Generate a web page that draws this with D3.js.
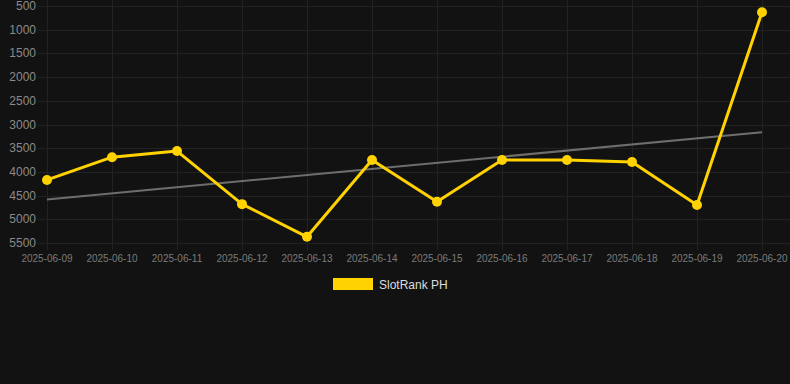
<!DOCTYPE html>
<html>
<head>
    <script src="https://d3js.org/d3.v7.min.js"></script>
    <style>
        body { margin: 0; background: #121212; }
        svg { display: block; background: #121212; font-family: Arial, "Liberation Sans", sans-serif; }
        .grid line { stroke: #222; stroke-width: 1px; }
        .ylab { fill: #8a8a8a; font-size: 12px; text-anchor: end; }
        .xlab { fill: #7a7a7a; font-size: 10px; text-anchor: middle; }
        .trend { fill: none; stroke: #6e6e6e; stroke-width: 2px; }
        .series { fill: none; stroke: #ffd200; stroke-width: 3px; stroke-linejoin: round; }
        .dot { fill: #ffd200; }
        .legend text { fill: #dddddd; font-size: 12px; }
    </style>
</head>
<body>
<svg width="790" height="384"></svg>
<script>
    var dates = ["2025-06-09", "2025-06-10", "2025-06-11", "2025-06-12", "2025-06-13", "2025-06-14",
                 "2025-06-15", "2025-06-16", "2025-06-17", "2025-06-18", "2025-06-19", "2025-06-20"];
    var ranks = [4170, 3690, 3560, 4680, 5370, 3750, 4630, 3750, 3750, 3790, 4700, 630];
    var yTicks = [500, 1000, 1500, 2000, 2500, 3000, 3500, 4000, 4500, 5000, 5500];
    var seriesName = "SlotRank PH";

    var svg = d3.select("svg"),
        width = +svg.attr("width");

    var plotLeft = 38, plotRight = 790, plotTop = 6, plotBottom = 243;

    var x = d3.scalePoint().domain(dates).range([47, 762]);
    var y = d3.scaleLinear().domain([500, 5500]).range([plotTop, plotBottom]);

    // grid
    var grid = svg.append("g").attr("class", "grid");
    grid.selectAll(".h").data(yTicks).enter().append("line")
        .attr("x1", plotLeft).attr("x2", plotRight)
        .attr("y1", function(d) { return Math.round(y(d)) + 0.5; })
        .attr("y2", function(d) { return Math.round(y(d)) + 0.5; });
    grid.selectAll(".v").data(dates).enter().append("line")
        .attr("x1", function(d) { return Math.round(x(d)) + 0.5; })
        .attr("x2", function(d) { return Math.round(x(d)) + 0.5; })
        .attr("y1", 0).attr("y2", plotBottom + 7);

    // y labels
    svg.selectAll(".ylab").data(yTicks).enter().append("text")
        .attr("class", "ylab")
        .attr("x", 36)
        .attr("y", function(d) { return y(d) + 4; })
        .text(function(d) { return d; });

    // x labels
    svg.selectAll(".xlab").data(dates).enter().append("text")
        .attr("class", "xlab")
        .attr("x", function(d) { return x(d); })
        .attr("y", 262)
        .text(function(d) { return d; });

    // trend (least squares over the series)
    var n = ranks.length,
        mx = d3.mean(d3.range(n)),
        my = d3.mean(ranks),
        sxy = d3.sum(ranks, function(v, i) { return (i - mx) * (v - my); }),
        sxx = d3.sum(d3.range(n), function(i) { return (i - mx) * (i - mx); }),
        slope = sxy / sxx,
        icpt = my - slope * mx;

    svg.append("line")
        .attr("class", "trend")
        .attr("x1", x(dates[0])).attr("y1", y(icpt))
        .attr("x2", x(dates[n - 1])).attr("y2", y(icpt + slope * (n - 1)));

    var line = d3.line()
        .x(function(d, i) { return x(dates[i]); })
        .y(function(d) { return y(d); });

    svg.append("path")
        .datum(ranks)
        .attr("class", "series")
        .attr("d", line);

    svg.selectAll(".dot").data(ranks).enter().append("circle")
        .attr("class", "dot")
        .attr("r", 5)
        .attr("cx", function(d, i) { return x(dates[i]); })
        .attr("cy", function(d) { return y(d); });

    // legend
    var lg = svg.append("g").attr("class", "legend");
    lg.append("rect")
        .attr("x", 333).attr("y", 278)
        .attr("width", 40).attr("height", 12)
        .attr("fill", "#ffd200");
    lg.append("text")
        .attr("x", 379).attr("y", 289)
        .text(seriesName);
</script>
</body>
</html>
